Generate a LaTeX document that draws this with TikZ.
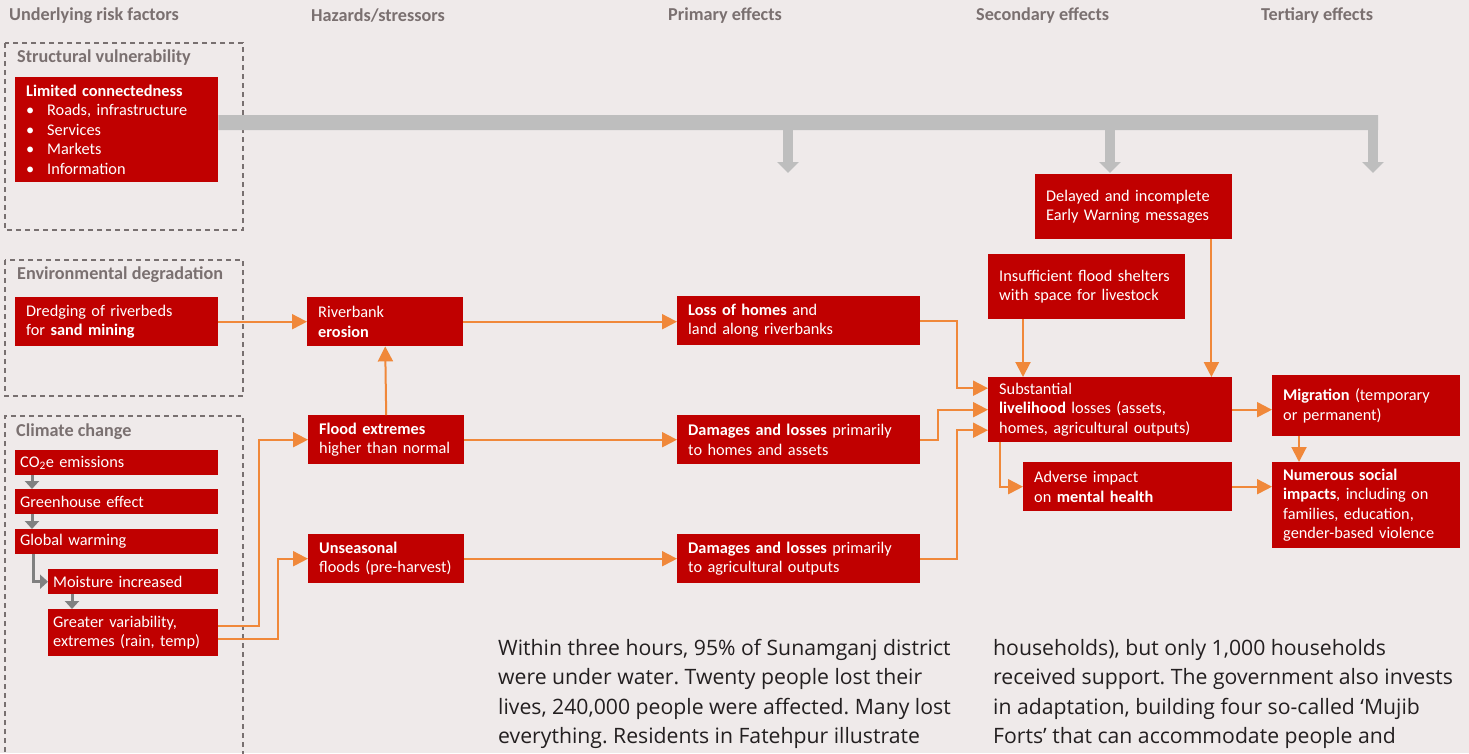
\documentclass[tikz,border=0pt]{standalone}
\usepackage{fontspec}
\setmainfont{Carlito}
\newfontfamily\textoFont{Open Sans}
\frenchspacing
\usetikzlibrary{arrows.meta}
\usetikzlibrary{calc}
\definecolor{figFondo}{RGB}{239,234,234}
\definecolor{figRojo}{RGB}{192,0,0}
\definecolor{figNaranja}{RGB}{240,136,58}
\definecolor{figGris}{RGB}{128,128,128}
\definecolor{figGrisClaro}{RGB}{190,190,190}
\definecolor{figGrisTexto}{RGB}{122,112,112}
\definecolor{figGrisBorde}{RGB}{120,112,112}
\definecolor{figTexto}{RGB}{35,31,32}
\tikzset{
  bloque/.style={
    rectangle, fill=figRojo, text=white, anchor=north west,
    align=left, inner xsep=11pt, inner ysep=0pt,
    font=\fontsize{16.3}{19.5}\selectfont
  },
  bloquec/.style={bloque, inner xsep=5pt},
  titulo/.style={anchor=west, inner sep=0pt, text=figGrisTexto,
    font=\bfseries\fontsize{18.2}{21}\selectfont},
  etiqueta/.style={titulo},
  texto/.style={anchor=north west, inner sep=0pt, align=left, text=figTexto,
    font=\textoFont\fontsize{21.2}{29.5}\selectfont},
  flecha/.style={-{Triangle[length=15pt,width=15pt]}, line width=2pt, draw=figNaranja},
  flechag/.style={-{Triangle[length=8pt,width=14pt]}, line width=3pt, draw=figGris},
  barra/.style={line width=15pt, draw=figGrisClaro},
  barraflecha/.style={-{Triangle[length=11pt,width=21pt]}, line width=10pt, draw=figGrisClaro},
  grupo/.style={draw=figGrisBorde, line width=1.5pt, dash pattern=on 5pt off 4pt}
}
\newcommand{\vin}{\makebox[21pt][l]{\textbullet}}
\begin{document}
\begin{tikzpicture}[x=1pt, y=-1pt]
  \path[use as bounding box, fill=figFondo] (0,0) rectangle (1469,753);

  % column headings
  \node[titulo] (cUnder) at (9,16) {Underlying risk factors};
  \node[titulo] (cHaz) at (311,16) {Hazards/stressors};
  \node[titulo] (cPrim) at (668,16) {Primary effects};
  \node[titulo] (cSec) at (976,16) {Secondary effects};
  \node[titulo] (cTer) at (1261,16) {Tertiary effects};

  % risk factor groups
  \draw[grupo] (5,43) rectangle (243,230);
  \draw[grupo] (5,260) rectangle (243,396);
  \draw[grupo] (5,770) -- (5,416) -- (243,416) -- (243,770);
  \node[etiqueta] (gStruct) at (17,58) {Structural vulnerability};
  \node[etiqueta] (gEnv) at (17,275) {Environmental degradation};
  \node[etiqueta] (gClim) at (16,432) {Climate change};

  \node[bloque, text width=181pt, minimum height=105pt] (lim) at (15,77)
    {\textbf{Limited connectedness}\\\vin Roads, infrastructure\\\vin Services\\\vin Markets\\\vin Information};
  \node[bloque, text width=181pt, minimum height=49pt] (dredge) at (15,297)
    {Dredging of riverbeds\\for \textbf{sand mining}};
  \node[bloquec, text width=193pt, minimum height=25pt] (co2) at (15,450) {CO\textsubscript{2}e emissions};
  \node[bloquec, text width=193pt, minimum height=25pt] (green) at (15,489) {Greenhouse effect};
  \node[bloquec, text width=193pt, minimum height=25pt] (warm) at (15,529) {Global warming};
  \node[bloquec, text width=160pt, minimum height=25pt] (moist) at (48,569) {Moisture increased};
  \node[bloquec, text width=160pt, minimum height=47pt] (varia) at (48,609)
    {Greater variability,\\extremes (rain, temp)};

  % hazards
  \node[bloque, text width=134pt, minimum height=49pt] (erosion) at (307,297) {Riverbank\\\textbf{erosion}};
  \node[bloque, text width=134pt, minimum height=49pt] (floodx) at (308,415) {\textbf{Flood extremes}\\higher than normal};
  \node[bloque, text width=134pt, minimum height=49pt] (unseas) at (308,534) {\textbf{Unseasonal}\\floods (pre-harvest)};

  % primary effects
  \node[bloque, text width=221pt, minimum height=49pt] (losshome) at (677,296)
    {\textbf{Loss of homes} and\\land along riverbanks};
  \node[bloque, text width=221pt, minimum height=49pt] (dmghome) at (677,415)
    {\textbf{Damages and losses} primarily\\to homes and assets};
  \node[bloque, text width=221pt, minimum height=49pt] (dmgagri) at (677,534)
    {\textbf{Damages and losses} primarily\\to agricultural outputs};

  % secondary effects
  \node[bloque, text width=175pt, minimum height=65pt] (delayed) at (1035,174)
    {Delayed and incomplete\\Early Warning messages};
  \node[bloque, text width=175pt, minimum height=65pt] (shelter) at (988,254)
    {Insufficient flood shelters\\with space for livestock};
  \node[bloque, text width=222pt, minimum height=65pt] (liveli) at (988,377)
    {Substantial\\\textbf{livelihood} losses (assets,\\homes, agricultural outputs)};
  \node[bloque, text width=187pt, minimum height=49pt] (mental) at (1023,462)
    {Adverse impact\\on \textbf{mental health}};

  % tertiary effects
  \node[bloque, text width=166pt, minimum height=61pt] (migr) at (1272,375)
    {\textbf{Migration} (temporary\\or permanent)};
  \node[bloque, text width=166pt, minimum height=86pt] (social) at (1272,462)
    {\textbf{Numerous social}\\\textbf{impacts}, including on\\families, education,\\gender-based violence};

  % structural vulnerability bar
  \coordinate (barEnd) at (1378,122.5);
  \coordinate (d1) at (788,173);
  \coordinate (d2) at (1110,173);
  \coordinate (d3) at (1373,173);
  \draw[barra] ([yshift=7pt]lim.east) -- (barEnd);
  \draw[barraflecha] (d1 |- barEnd) -- (d1);
  \draw[barraflecha] (d2 |- barEnd) -- (d2);
  \draw[barraflecha] (d3 |- barEnd) -- (d3);

  % climate chain
  \draw[flechag] ([xshift=17pt]co2.south west) -- ([xshift=17pt]co2.south west |- green.north);
  \draw[flechag] ([xshift=17pt]green.south west) -- ([xshift=17pt]green.south west |- warm.north);
  \draw[flechag] ([xshift=18pt]warm.south west) |- (moist.west);
  \draw[flechag] ([xshift=24pt]moist.south west) -- ([xshift=24pt]moist.south west |- varia.north);

  % hazards links
  \draw[flecha] (dredge.east) -- (erosion.west);
  \draw[flecha] (floodx.north) -- (erosion.south);
  \draw[flecha] ([yshift=6.5pt]varia.east) -- ++(41,0) |- (floodx.west);
  \draw[flecha] ([yshift=-6.5pt]varia.east) -- ++(60,0) |- (unseas.west);

  % primary links
  \draw[flecha] (erosion.east) -- (erosion.east -| losshome.west);
  \draw[flecha] (floodx.east) -- (dmghome.west);
  \draw[flecha] (unseas.east) -- (dmgagri.west);

  % secondary links
  \draw[flecha] (losshome.east) -- ++(37,0) |- ([yshift=21.5pt]liveli.west);
  \draw[flecha] (dmghome.east) -- ++(18,0) |- (liveli.west);
  \draw[flecha] (dmgagri.east) -- ++(37,0) |- ([yshift=-20.5pt]liveli.west);
  \draw[flecha] ([xshift=35pt]shelter.south west) -- ([xshift=35pt]shelter.south west |- liveli.north);
  \draw[flecha] ([xshift=-21pt]delayed.south east) -- ([xshift=-21pt]delayed.south east |- liveli.north);
  \draw[flecha] ([xshift=12pt]liveli.south west) |- (mental.west);

  % tertiary links
  \draw[flecha] (liveli.east) -- (liveli.east -| migr.west);
  \draw[flecha] ([xshift=27pt]migr.south west) -- ([xshift=27pt]migr.south west |- social.north);
  \draw[flecha] (mental.east) -- (mental.east -| social.west);

  % body text
  \node[texto] (col1) at (498,639)
    {Within three hours, 95\% of Sunamganj district\\were under water. Twenty people lost their\\lives, 240,000 people were affected. Many lost\\everything. Residents in Fatehpur illustrate};
  \node[texto] (col2) at (993,639)
    {households), but only 1,000 households\\received support. The government also invests\\in adaptation, building four so-called ‘Mujib\\Forts’ that can accommodate people and};
\end{tikzpicture}
\end{document}
